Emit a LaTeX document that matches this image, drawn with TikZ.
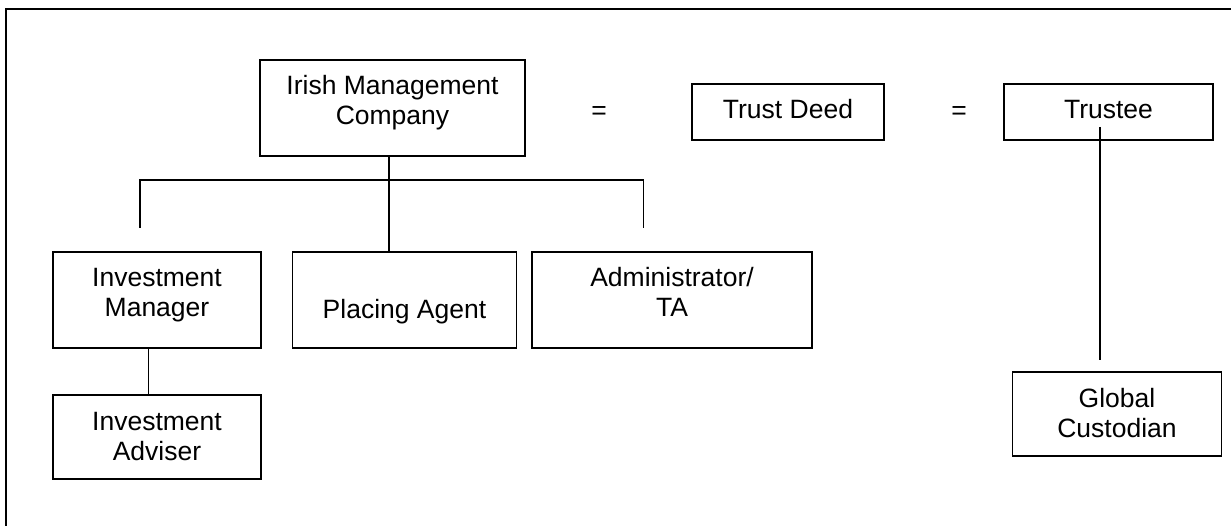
\documentclass[tikz,border=0pt]{standalone}
\usepackage{fontspec}
\setmainfont{Liberation Sans}
\newcommand{\twol}[2]{\vtop{\baselineskip=30pt\lineskiplimit=-50pt\halign{\hfil##\hfil\cr#1\cr#2\cr}}}
\begin{document}
\begin{tikzpicture}[x=1pt,y=-1pt,
  box/.style={draw,line width=1.6pt,inner sep=0pt,font=\fontsize{26.5}{30}\selectfont},
  tall2/.style={box,text height=19pt,text depth=45pt},
  short2/.style={box,text height=19pt,text depth=33pt},
  oneline/.style={box,text height=18.6pt,text depth=6pt},
  lowline/.style={box,text height=42.6pt,text depth=6pt},
  eqsign/.style={inner sep=0pt,font=\fontsize{26.5}{30}\selectfont},
  conn/.style={line width=1.1pt}]
\useasboundingbox (0,0) rectangle (1231,526);
\fill[white] (0,0) rectangle (1231,526);
\draw[line width=1.7pt] (6,532) -- (6,9) -- (1236,9);

\node[tall2,minimum width=265pt,minimum height=96pt] (imc) at (392.5,108) {\twol{Irish Management}{Company}};
\node[eqsign] (eq1) at (599,113) {=};
\node[oneline,minimum width=192pt,minimum height=56pt] (td) at (788,112) {Trust Deed};
\node[eqsign] (eq2) at (959,113) {=};
\node[oneline,minimum width=209pt,minimum height=56pt] (tr) at (1108.5,112) {Trustee};
\node[tall2,minimum width=208pt,minimum height=96pt] (im) at (157,300) {\twol{Investment}{Manager}};
\node[lowline,minimum width=224pt,minimum height=96pt] (pa) at (404.5,300) {Placing Agent};
\node[tall2,minimum width=280pt,minimum height=96pt] (adm) at (672,300) {\twol{Administrator/}{TA}};
\node[short2,minimum width=208pt,minimum height=84pt] (ia) at (157,437) {\twol{Investment}{Adviser}};
\node[short2,minimum width=209pt,minimum height=84pt] (gc) at (1117,414) {\twol{Global}{Custodian}};

\coordinate (bt) at (389,180);
\coordinate (bl) at (140,228);
\coordinate (br) at (643.5,228);
\coordinate (tt) at (1100,127);
\coordinate (tb) at (1100,360);

\draw[conn] (imc.south -| bt) -- (bt |- pa.north);
\draw[conn] (bl) -- (bl |- bt) -- (br |- bt) -- (br);
\draw[conn] ([xshift=-8.4pt]im.south) -- ([xshift=-8.4pt]ia.north);
\draw[conn] (tt) -- (tb);
\end{tikzpicture}
\end{document}
